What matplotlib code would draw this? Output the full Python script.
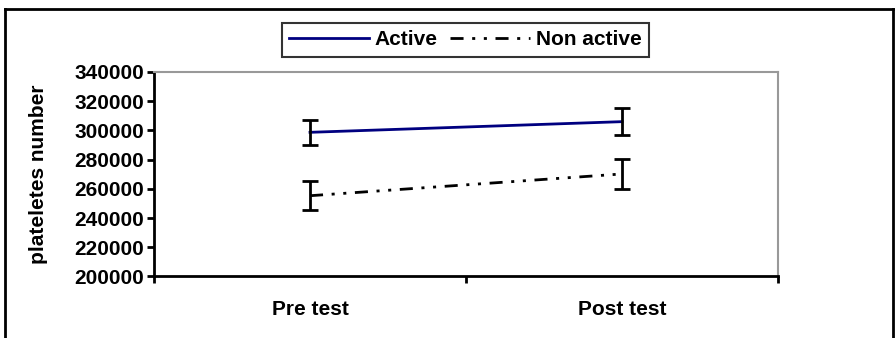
import matplotlib.pyplot as plt
from matplotlib.lines import Line2D

plt.rcParams['font.family'] = ['Liberation Sans', 'DejaVu Sans']
plt.rcParams['font.weight'] = 'bold'

# platelet counts, mean and error per group
phases = ['Pre test', 'Post test']
active = [298700, 306000]
active_err = [8500, 9300]
non_active = [255300, 270200]
non_active_err = [10000, 10500]
y_ticks = [200000, 220000, 240000, 260000, 280000, 300000, 320000, 340000]

fig = plt.figure(figsize=(8.96, 3.38), dpi=100)
ax = fig.add_axes([0.1719, 0.182, 0.6964, 0.605])

x = [0.5, 1.5]
ax.plot(x, active, color='#000080', linewidth=2, label='Active')
ax.plot(x, non_active, color='black', linewidth=2, dashes=(4.7, 3.1, 1.1, 3.1, 1.1, 3.1),
        label='Non active')
ax.errorbar(x, active, yerr=active_err, fmt='none', ecolor='black', elinewidth=2, capsize=6, capthick=2)
ax.errorbar(x, non_active, yerr=non_active_err, fmt='none', ecolor='black', elinewidth=2, capsize=6, capthick=2)

ax.set_xlim(0, 2)
ax.set_ylim(200000, 340000)
ax.set_yticks(y_ticks)
ax.set_yticklabels([str(v) for v in y_ticks], fontsize=15, fontweight='bold')
ax.set_xticks([0, 1, 2])
ax.set_xticklabels([])
ax.set_xticks(x, minor=True)
ax.set_xticklabels(phases, minor=True, fontsize=15, fontweight='bold')
ax.tick_params(axis='x', which='minor', length=0, pad=17)
ax.tick_params(axis='x', which='major', length=5, width=2, direction='out')
ax.tick_params(axis='y', length=5, width=2, direction='out', pad=2)
ax.set_ylabel('plateletes number', fontsize=15, fontweight='bold')
ax.yaxis.set_label_coords(-0.170, 0.5)

ax.spines['left'].set_linewidth(2)
ax.spines['bottom'].set_linewidth(2)
for s in ['top', 'right']:
    ax.spines[s].set_color('#999999')
    ax.spines[s].set_linewidth(1.5)

# chart frame (open at the bottom)
fx0, fx1, fy1 = 4.5 / 896, 892.5 / 896, 1 - 8.5 / 338
for xs, ys in [([fx0, fx0], [0, fy1]), ([fx0, fx1], [fy1, fy1]), ([fx1, fx1], [fy1, 0])]:
    fig.add_artist(Line2D(xs, ys, transform=fig.transFigure, color='black', linewidth=2))

leg = fig.legend(loc='center', bbox_to_anchor=(0.5195, 0.882), ncol=2, frameon=True,
                 fancybox=False, edgecolor='black', handlelength=3.8,
                 handletextpad=0.3, columnspacing=0.6, borderpad=0.35,
                 prop={'weight': 'bold', 'size': 15})
leg.get_frame().set_linewidth(1.5)

fig.savefig('out.png', dpi=100)
